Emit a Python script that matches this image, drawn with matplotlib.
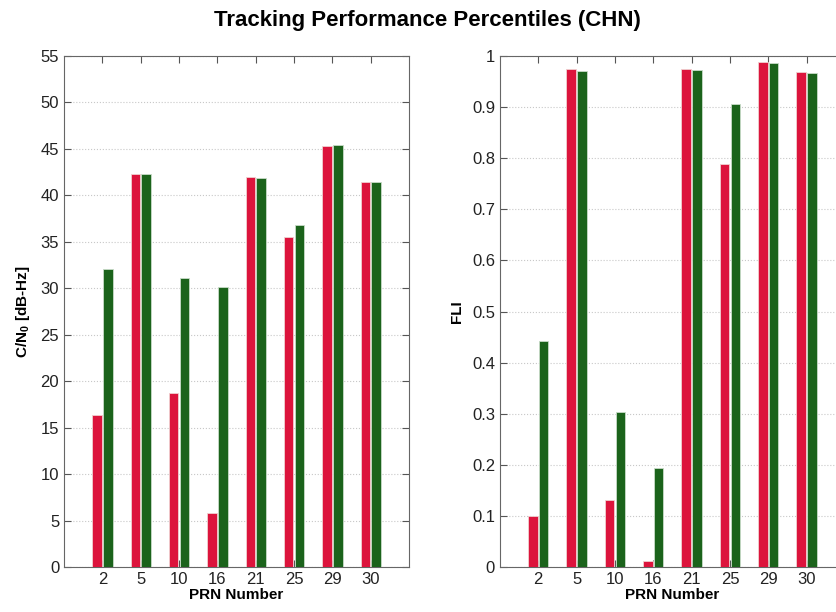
import numpy as np
import matplotlib
matplotlib.use("Agg")
import matplotlib.pyplot as plt

plt.rcParams['font.family'] = ['Liberation Sans', 'DejaVu Sans']
plt.rcParams['mathtext.fontset'] = 'custom'
plt.rcParams['mathtext.rm'] = 'Liberation Sans'
plt.rcParams['mathtext.bf'] = 'Liberation Sans:bold'

prn = ['2', '5', '10', '16', '21', '25', '29', '30']

cn0_red = [16.4, 42.3, 18.7, 5.8, 42.0, 35.5, 45.3, 41.4]
cn0_green = [32.1, 42.3, 31.1, 30.1, 41.9, 36.8, 45.4, 41.4]

fli_red = [0.100, 0.975, 0.131, 0.012, 0.975, 0.788, 0.988, 0.968]
fli_green = [0.442, 0.970, 0.303, 0.193, 0.972, 0.907, 0.986, 0.966]

RED = '#DC143C'
GREEN = '#1B631B'


def draw_panel(ax, red, green, ylim, yticks, ylabel):
    x = np.arange(1, len(prn) + 1)
    w = 0.25
    ax.bar(x - 0.14, red, w, color=RED, edgecolor='#f0d0d0', linewidth=0.6, zorder=3)
    ax.bar(x + 0.14, green, w, color=GREEN, edgecolor='#c8dcc8', linewidth=0.6, zorder=3)
    ax.set_xlim(0, len(prn) + 1)
    ax.set_ylim(*ylim)
    ax.set_xticks(x)
    ax.set_xticklabels(prn)
    ax.set_yticks(yticks)
    ax.yaxis.grid(True, linestyle=':', color='#c8c8c8', linewidth=0.8, zorder=0)
    ax.tick_params(direction='in', top=True, right=True, labelsize=12,
                   length=5, color='#555555', labelcolor='#222222')
    for s in ax.spines.values():
        s.set_color('#666666')
    ax.set_xlabel('PRN Number', fontsize=11, fontweight='bold', labelpad=1)
    ax.set_ylabel(ylabel, fontsize=11, fontweight='bold', labelpad=6)


fig = plt.figure(figsize=(8.36, 6.12), dpi=100)
ax1 = fig.add_axes([0.0766, 0.0735, 0.4127, 0.835])
ax2 = fig.add_axes([0.598, 0.0735, 0.4127, 0.835])

draw_panel(ax1, cn0_red, cn0_green, (0, 55), np.arange(0, 56, 5),
           r'C/N$_\mathbf{0}$ [dB-Hz]')
draw_panel(ax2, fli_red, fli_green, (0, 1), np.round(np.arange(0, 1.01, 0.1), 1),
           'FLI')
ax2.set_yticklabels(['0', '0.1', '0.2', '0.3', '0.4', '0.5', '0.6', '0.7',
                     '0.8', '0.9', '1'])

fig.text(0.511, 0.967, 'Tracking Performance Percentiles (CHN)', ha='center',
         va='center', fontsize=16, fontweight='bold')

fig.savefig('out.png', dpi=100)
